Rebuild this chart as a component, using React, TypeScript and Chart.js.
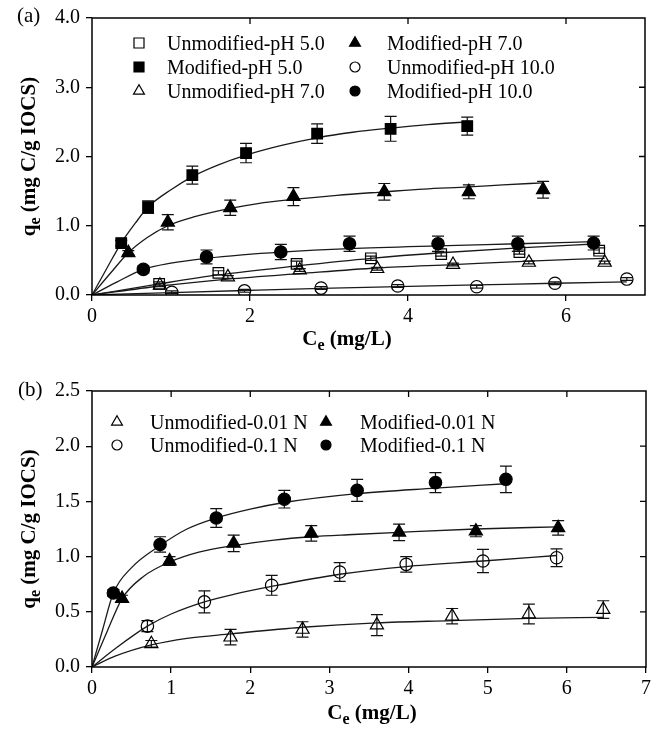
import React, { useEffect, useRef } from "react";
import { Chart, registerables } from "chart.js";
Chart.register(...registerables);

const SERIF = "'Liberation Serif', 'Times New Roman', serif";

// ---------------- Panel (a) ----------------
const xTicksA = [0, 2, 4, 6];
const yTicksA = [0, 1, 2, 3, 4];
const topTicksA = [2, 4, 6];
const rightTicksA = [1, 2, 3];
const labelsA = [
  "Unmodified-pH 5.0",
  "Modified-pH 5.0",
  "Unmodified-pH 7.0",
  "Modified-pH 7.0",
  "Unmodified-pH 10.0",
  "Modified-pH 10.0",
];

const aUnmod5X = [0.85, 1.6, 2.59, 3.53, 4.42, 5.41, 6.42];
const aUnmod5Y = [0.16, 0.32, 0.45, 0.53, 0.59, 0.62, 0.64];
const aUnmod5E = [0.03, 0.03, 0.04, 0.03, 0.03, 0.03, 0.04];
const aUnmod5FitX = [0, 0.85, 1.6, 2.59, 3.53, 4.42, 5.41, 6.42];
const aUnmod5FitY = [0, 0.16, 0.29, 0.42, 0.53, 0.61, 0.68, 0.74];

const aMod5X = [0.37, 0.71, 1.27, 1.95, 2.85, 3.78, 4.75];
const aMod5Y = [0.75, 1.27, 1.73, 2.05, 2.33, 2.4, 2.44];
const aMod5E = [0.04, 0.09, 0.13, 0.14, 0.14, 0.18, 0.13];
const aMod5FitX = [0, 0.19, 0.37, 0.55, 0.71, 1.0, 1.27, 1.6, 1.95, 2.4, 2.85, 3.3, 3.78, 4.25, 4.75];
const aMod5FitY = [0, 0.39, 0.75, 1.04, 1.27, 1.52, 1.71, 1.88, 2.02, 2.16, 2.27, 2.35, 2.41, 2.46, 2.5];

const aUnmod7X = [0.86, 1.72, 2.63, 3.61, 4.57, 5.53, 6.49];
const aUnmod7Y = [0.14, 0.26, 0.36, 0.38, 0.44, 0.47, 0.47];
const aUnmod7E = [0.02, 0.02, 0.02, 0.02, 0.02, 0.02, 0.02];
const aUnmod7FitX = [0, 0.86, 1.72, 2.63, 3.61, 4.57, 5.53, 6.49];
const aUnmod7FitY = [0, 0.13, 0.23, 0.31, 0.39, 0.44, 0.49, 0.53];

const aMod7X = [0.46, 0.96, 1.75, 2.55, 3.7, 4.77, 5.71];
const aMod7Y = [0.61, 1.05, 1.26, 1.42, 1.49, 1.49, 1.52];
const aMod7E = [0.03, 0.11, 0.11, 0.13, 0.12, 0.1, 0.12];
const aMod7FitX = [0, 0.23, 0.46, 0.7, 0.96, 1.3, 1.75, 2.1, 2.55, 3.1, 3.7, 4.2, 4.77, 5.2, 5.71];
const aMod7FitY = [0, 0.31, 0.61, 0.83, 1.0, 1.13, 1.25, 1.32, 1.38, 1.44, 1.49, 1.53, 1.56, 1.59, 1.62];

const aUnmod10X = [1.01, 1.93, 2.9, 3.87, 4.87, 5.86, 6.77];
const aUnmod10Y = [0.04, 0.06, 0.1, 0.13, 0.12, 0.17, 0.23];
const aUnmod10E = [0.02, 0.02, 0.02, 0.02, 0.02, 0.02, 0.02];
const aUnmod10FitX = [0, 1.01, 1.93, 2.9, 3.87, 4.87, 5.86, 6.77];
const aUnmod10FitY = [0, 0.035, 0.065, 0.095, 0.12, 0.145, 0.17, 0.19];

const aMod10X = [0.65, 1.45, 2.39, 3.26, 4.38, 5.39, 6.35];
const aMod10Y = [0.37, 0.55, 0.62, 0.74, 0.74, 0.74, 0.75];
const aMod10E = [0.05, 0.1, 0.11, 0.11, 0.11, 0.11, 0.1];
const aMod10FitX = [0, 0.32, 0.65, 1.0, 1.45, 1.9, 2.39, 3.26, 4.38, 5.39, 6.35];
const aMod10FitY = [0, 0.19, 0.37, 0.46, 0.53, 0.58, 0.62, 0.67, 0.71, 0.74, 0.77];

// ---------------- Panel (b) ----------------
const xTicksB = [0, 1, 2, 3, 4, 5, 6, 7];
const yTicksB = [0, 0.5, 1.0, 1.5, 2.0, 2.5];
const topTicksB = [1, 2, 3, 4, 5, 6];
const rightTicksB = [0.5, 1.0, 1.5, 2.0];
const labelsB = ["Unmodified-0.01 N", "Unmodified-0.1 N", "Modified-0.01 N", "Modified-0.1 N"];

const bUnmod001X = [0.75, 1.75, 2.66, 3.6, 4.55, 5.52, 6.46];
const bUnmod001Y = [0.21, 0.27, 0.34, 0.38, 0.46, 0.48, 0.52];
const bUnmod001E = [0.03, 0.07, 0.07, 0.095, 0.07, 0.09, 0.08];
const bUnmod001FitX = [0, 0.3, 0.75, 1.2, 1.75, 2.66, 3.6, 4.55, 5.52, 6.46];
const bUnmod001FitY = [0, 0.1, 0.2, 0.26, 0.3, 0.36, 0.4, 0.42, 0.44, 0.45];

const bUnmod01X = [0.7, 1.42, 2.27, 3.13, 3.97, 4.94, 5.87];
const bUnmod01Y = [0.37, 0.59, 0.74, 0.86, 0.93, 0.96, 0.99];
const bUnmod01E = [0.05, 0.1, 0.09, 0.085, 0.07, 0.105, 0.08];
const bUnmod01FitX = [0, 0.3, 0.7, 1.0, 1.42, 1.8, 2.27, 3.13, 3.97, 4.94, 5.87];
const bUnmod01FitY = [0, 0.17, 0.37, 0.48, 0.59, 0.66, 0.73, 0.84, 0.91, 0.96, 1.01];

const bMod001X = [0.38, 0.98, 1.79, 2.77, 3.88, 4.85, 5.89];
const bMod001Y = [0.62, 0.96, 1.12, 1.21, 1.22, 1.23, 1.26];
const bMod001E = [0.03, 0.04, 0.075, 0.07, 0.075, 0.05, 0.065];
const bMod001FitX = [0, 0.19, 0.38, 0.65, 0.98, 1.35, 1.79, 2.3, 2.77, 3.3, 3.88, 4.85, 5.89];
const bMod001FitY = [0, 0.32, 0.62, 0.82, 0.95, 1.04, 1.1, 1.15, 1.18, 1.2, 1.22, 1.25, 1.27];

const bMod01X = [0.27, 0.86, 1.57, 2.43, 3.35, 4.34, 5.23];
const bMod01Y = [0.67, 1.11, 1.35, 1.52, 1.6, 1.67, 1.7];
const bMod01E = [0.03, 0.07, 0.085, 0.08, 0.1, 0.09, 0.12];
const bMod01FitX = [0, 0.135, 0.27, 0.5, 0.86, 1.2, 1.57, 2.0, 2.43, 3.35, 4.34, 5.23];
const bMod01FitY = [0, 0.34, 0.67, 0.9, 1.1, 1.25, 1.35, 1.43, 1.49, 1.57, 1.62, 1.66];

type MStyle = "rect" | "circle" | "triangle";
type Series = {
  label: string;
  style: MStyle;
  filled: boolean;
  px: number[];
  py: number[];
  pe: number[];
  cx: number[];
  cy: number[];
};

const seriesA: Series[] = [
  { label: labelsA[0], style: "rect", filled: false, px: aUnmod5X, py: aUnmod5Y, pe: aUnmod5E, cx: aUnmod5FitX, cy: aUnmod5FitY },
  { label: labelsA[1], style: "rect", filled: true, px: aMod5X, py: aMod5Y, pe: aMod5E, cx: aMod5FitX, cy: aMod5FitY },
  { label: labelsA[2], style: "triangle", filled: false, px: aUnmod7X, py: aUnmod7Y, pe: aUnmod7E, cx: aUnmod7FitX, cy: aUnmod7FitY },
  { label: labelsA[3], style: "triangle", filled: true, px: aMod7X, py: aMod7Y, pe: aMod7E, cx: aMod7FitX, cy: aMod7FitY },
  { label: labelsA[4], style: "circle", filled: false, px: aUnmod10X, py: aUnmod10Y, pe: aUnmod10E, cx: aUnmod10FitX, cy: aUnmod10FitY },
  { label: labelsA[5], style: "circle", filled: true, px: aMod10X, py: aMod10Y, pe: aMod10E, cx: aMod10FitX, cy: aMod10FitY },
];

const seriesB: Series[] = [
  { label: labelsB[0], style: "triangle", filled: false, px: bUnmod001X, py: bUnmod001Y, pe: bUnmod001E, cx: bUnmod001FitX, cy: bUnmod001FitY },
  { label: labelsB[1], style: "circle", filled: false, px: bUnmod01X, py: bUnmod01Y, pe: bUnmod01E, cx: bUnmod01FitX, cy: bUnmod01FitY },
  { label: labelsB[2], style: "triangle", filled: true, px: bMod001X, py: bMod001Y, pe: bMod001E, cx: bMod001FitX, cy: bMod001FitY },
  { label: labelsB[3], style: "circle", filled: true, px: bMod01X, py: bMod01Y, pe: bMod01E, cx: bMod01FitX, cy: bMod01FitY },
];

const POINT_R: Record<MStyle, number> = { rect: 7.5, circle: 6.2, triangle: 7.6 };

type Panel = {
  id: string;
  width: number;
  height: number;
  top: number;
  padTop: number;
  padRight: number;
  xAxisH: number;
  yAxisW: number;
  xMax: number;
  yMax: number;
  xTicks: number[];
  yTicks: number[];
  topTicks: number[];
  rightTicks: number[];
  series: Series[];
  panelLabel: string;
  panelLabelPos: [number, number];
  xTitleCenter: number;
  xTitleBaseline: number;
  yTitleBaselineX: number;
  legendCols: { markerX: number; textX: number; rows: number[]; items: number[] }[];
  legendTextDy: number;
};

const panelA: Panel = {
  id: "a",
  width: 659,
  height: 360,
  top: 0,
  padTop: 18,
  padRight: 14,
  xAxisH: 65,
  yAxisW: 92,
  xMax: 7,
  yMax: 4,
  xTicks: xTicksA,
  yTicks: yTicksA,
  topTicks: topTicksA,
  rightTicks: rightTicksA,
  series: seriesA,
  panelLabel: "(a)",
  panelLabelPos: [17, 22],
  xTitleCenter: 347,
  xTitleBaseline: 345,
  yTitleBaselineX: 35,
  legendCols: [
    { markerX: 139, textX: 167, rows: [43, 67, 91], items: [0, 1, 2] },
    { markerX: 355, textX: 387, rows: [43, 67, 91], items: [3, 4, 5] },
  ],
  legendTextDy: 7,
};

const panelB: Panel = {
  id: "b",
  width: 659,
  height: 369,
  top: 360,
  padTop: 31,
  padRight: 13,
  xAxisH: 62,
  yAxisW: 92,
  xMax: 7,
  yMax: 2.5,
  xTicks: xTicksB,
  yTicks: yTicksB,
  topTicks: topTicksB,
  rightTicks: rightTicksB,
  series: seriesB,
  panelLabel: "(b)",
  panelLabelPos: [18, 36],
  xTitleCenter: 372,
  xTitleBaseline: 359,
  yTitleBaselineX: 35,
  legendCols: [
    { markerX: 117, textX: 150, rows: [62, 85], items: [0, 1] },
    { markerX: 326, textX: 360, rows: [62, 85], items: [2, 3] },
  ],
  legendTextDy: 7,
};

function drawMarker(ctx: CanvasRenderingContext2D, style: MStyle, x: number, y: number, filled: boolean, scale: number) {
  ctx.save();
  ctx.beginPath();
  if (style === "rect") {
    const s = 5 * scale;
    ctx.rect(x - s, y - s, 2 * s, 2 * s);
  } else if (style === "circle") {
    ctx.arc(x, y, 5 * scale, 0, Math.PI * 2);
  } else {
    const r = 6.3 * scale;
    ctx.moveTo(x, y - r);
    ctx.lineTo(x + 0.866 * r, y + 0.5 * r);
    ctx.lineTo(x - 0.866 * r, y + 0.5 * r);
    ctx.closePath();
  }
  if (filled) {
    ctx.fillStyle = "#000";
    ctx.fill();
  }
  ctx.strokeStyle = "#000";
  ctx.lineWidth = 1.2;
  ctx.stroke();
  ctx.restore();
}

function makeDecor(p: Panel) {
  return {
    id: "decor_" + p.id,
    beforeDatasetsDraw(chart: any) {
      const ctx: CanvasRenderingContext2D = chart.ctx;
      const xs = chart.scales.x;
      const ys = chart.scales.y;
      ctx.save();
      ctx.strokeStyle = "#111";
      ctx.lineWidth = 1.2;
      p.series.forEach((s) => {
        s.px.forEach((xv, i) => {
          const px = xs.getPixelForValue(xv);
          const yTop = ys.getPixelForValue(s.py[i] + s.pe[i]);
          const yBot = ys.getPixelForValue(s.py[i] - s.pe[i]);
          ctx.beginPath();
          ctx.moveTo(px, yTop);
          ctx.lineTo(px, yBot);
          ctx.moveTo(px - 6, yTop);
          ctx.lineTo(px + 6, yTop);
          ctx.moveTo(px - 6, yBot);
          ctx.lineTo(px + 6, yBot);
          ctx.stroke();
        });
      });
      ctx.restore();
    },
    afterDraw(chart: any) {
      const ctx: CanvasRenderingContext2D = chart.ctx;
      const xs = chart.scales.x;
      const ys = chart.scales.y;
      const a = chart.chartArea;
      ctx.save();
      // frame
      ctx.strokeStyle = "#000";
      ctx.lineWidth = 1.5;
      ctx.strokeRect(a.left, a.top, a.right - a.left, a.bottom - a.top);
      // mirrored inward ticks
      ctx.lineWidth = 1.3;
      ctx.beginPath();
      p.topTicks.forEach((v) => {
        const x = xs.getPixelForValue(v);
        ctx.moveTo(x, a.top);
        ctx.lineTo(x, a.top + 6);
      });
      p.rightTicks.forEach((v) => {
        const y = ys.getPixelForValue(v);
        ctx.moveTo(a.right, y);
        ctx.lineTo(a.right - 6, y);
      });
      ctx.stroke();

      // panel label
      ctx.fillStyle = "#000";
      ctx.textBaseline = "alphabetic";
      ctx.textAlign = "left";
      ctx.font = `21px ${SERIF}`;
      ctx.fillText(p.panelLabel, p.panelLabelPos[0], p.panelLabelPos[1]);

      // x title: C_e (mg/L)
      const bold = `bold 21px ${SERIF}`;
      const subFont = `bold 16px ${SERIF}`;
      ctx.font = bold;
      const wC = ctx.measureText("C").width;
      const wR = ctx.measureText(" (mg/L)").width;
      ctx.font = subFont;
      const wE = ctx.measureText("e").width;
      let sx = p.xTitleCenter - (wC + wE + wR) / 2;
      ctx.font = bold;
      ctx.fillText("C", sx, p.xTitleBaseline);
      ctx.font = subFont;
      ctx.fillText("e", sx + wC, p.xTitleBaseline + 5);
      ctx.font = bold;
      ctx.fillText(" (mg/L)", sx + wC + wE, p.xTitleBaseline);

      // y title: q_e (mg C/g IOCS)
      ctx.save();
      const cy = (a.top + a.bottom) / 2;
      ctx.translate(p.yTitleBaselineX, cy);
      ctx.rotate(-Math.PI / 2);
      ctx.font = bold;
      const wq = ctx.measureText("q").width;
      const wr2 = ctx.measureText(" (mg C/g IOCS)").width;
      ctx.font = subFont;
      const we2 = ctx.measureText("e").width;
      const st = -(wq + we2 + wr2) / 2;
      ctx.font = bold;
      ctx.fillText("q", st, 0);
      ctx.font = subFont;
      ctx.fillText("e", st + wq, 5);
      ctx.font = bold;
      ctx.fillText(" (mg C/g IOCS)", st + wq + we2, 0);
      ctx.restore();

      // legend
      ctx.font = `20px ${SERIF}`;
      ctx.textAlign = "left";
      ctx.textBaseline = "alphabetic";
      p.legendCols.forEach((col) => {
        col.items.forEach((idx, r) => {
          const s = p.series[idx];
          const y = col.rows[r];
          drawMarker(ctx, s.style, col.markerX, y, s.filled, 1);
          ctx.fillStyle = "#000";
          ctx.fillText(s.label, col.textX, y + p.legendTextDy);
        });
      });
      ctx.restore();
    },
  };
}

function buildConfig(p: Panel): any {
  const datasets: any[] = [];
  p.series.forEach((s) => {
    datasets.push({
      label: s.label + " fit",
      data: s.cx.map((x, i) => ({ x, y: s.cy[i] })),
      showLine: true,
      borderColor: "#1a1a1a",
      borderWidth: 1.3,
      pointRadius: 0,
      pointHoverRadius: 0,
      cubicInterpolationMode: "monotone",
      fill: false,
      order: 2,
    });
    datasets.push({
      label: s.label,
      data: s.px.map((x, i) => ({ x, y: s.py[i] })),
      showLine: false,
      pointStyle: s.style,
      pointRadius: POINT_R[s.style],
      pointHoverRadius: POINT_R[s.style],
      pointBackgroundColor: s.filled ? "#000" : "rgba(0,0,0,0)",
      pointBorderColor: "#000",
      pointBorderWidth: 1.2,
      order: 1,
    });
  });
  const tickFont = { family: SERIF, size: 20 };
  return {
    type: "scatter",
    data: { datasets },
    options: {
      responsive: false,
      animation: false,
      events: [],
      layout: { padding: { top: p.padTop, right: p.padRight, left: 0, bottom: 0 } },
      plugins: { legend: { display: false }, tooltip: { enabled: false }, title: { display: false } },
      scales: {
        x: {
          type: "linear",
          position: "bottom",
          min: 0,
          max: p.xMax,
          afterBuildTicks: (sc: any) => {
            sc.ticks = p.xTicks.map((v) => ({ value: v }));
          },
          afterFit: (sc: any) => {
            sc.height = p.xAxisH;
          },
          grid: { drawOnChartArea: false, drawTicks: true, tickLength: 6, color: "#000", lineWidth: 1.3 },
          border: { display: false },
          ticks: {
            color: "#000",
            font: tickFont,
            padding: 4,
            maxRotation: 0,
            autoSkip: false,
            callback: (v: number) => String(v),
          },
        },
        y: {
          type: "linear",
          position: "left",
          min: 0,
          max: p.yMax,
          afterBuildTicks: (sc: any) => {
            sc.ticks = p.yTicks.map((v) => ({ value: v }));
          },
          afterFit: (sc: any) => {
            sc.width = p.yAxisW;
          },
          grid: { drawOnChartArea: false, drawTicks: true, tickLength: 6, color: "#000", lineWidth: 1.3 },
          border: { display: false },
          ticks: {
            color: "#000",
            font: tickFont,
            padding: 6,
            autoSkip: false,
            callback: (v: number) => Number(v).toFixed(1),
          },
        },
      },
    },
    plugins: [makeDecor(p)],
  };
}

function ChartPanel({ panel }: { panel: Panel }) {
  const ref = useRef<HTMLCanvasElement | null>(null);
  useEffect(() => {
    if (!ref.current) return;
    const chart = new Chart(ref.current, buildConfig(panel));
    return () => chart.destroy();
  }, [panel]);
  return (
    <div style={{ position: "absolute", left: 0, top: panel.top, width: panel.width, height: panel.height }}>
      <canvas
        ref={ref}
        width={panel.width}
        height={panel.height}
        style={{ display: "block", width: panel.width, height: panel.height }}
      />
    </div>
  );
}

export default function App() {
  return (
    <div style={{ position: "absolute", left: 0, top: 0, width: 659, height: 729, background: "#fff" }}>
      <ChartPanel panel={panelA} />
      <ChartPanel panel={panelB} />
    </div>
  );
}
